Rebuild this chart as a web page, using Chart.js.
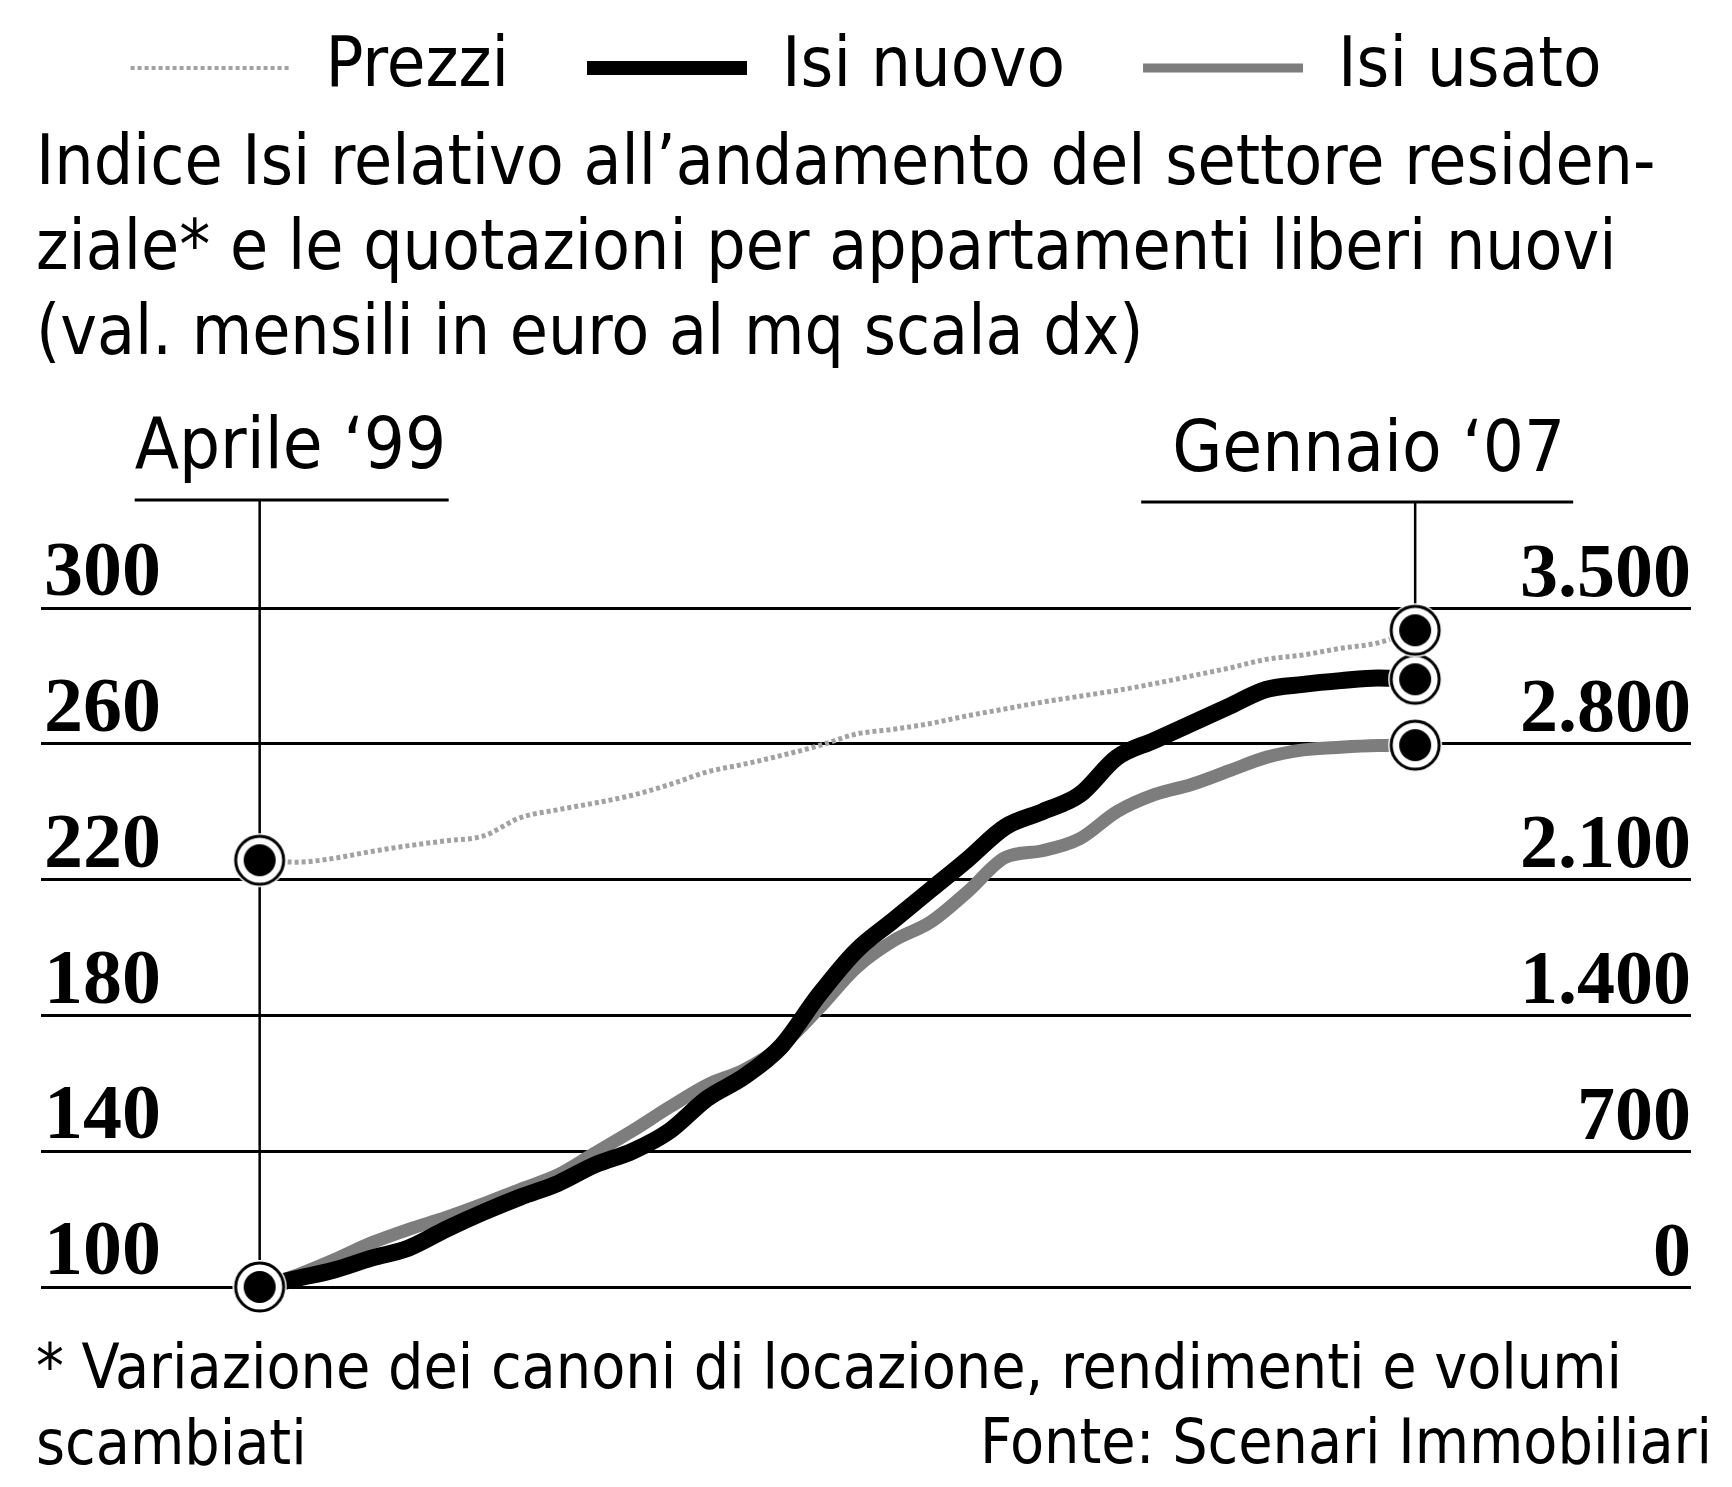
<!DOCTYPE html>
<html lang="it">
<head>
<meta charset="utf-8">
<title>Indice Isi e prezzi</title>
<script src="https://cdn.jsdelivr.net/npm/chart.js@4.4.1/dist/chart.umd.min.js"></script>
<style>
  html, body { margin: 0; padding: 0; background: #fff; }
  canvas { display: block; }
</style>
</head>
<body>
<canvas id="grafico" width="1732" height="1487"></canvas>
<script>
// valori, un punto a trimestre (aprile '99 - gennaio '07)
const trimestri = ['apr 1999', 'lug 1999', 'ott 1999', 'gen 2000', 'apr 2000', 'lug 2000', 'ott 2000', 'gen 2001',
  'apr 2001', 'lug 2001', 'ott 2001', 'gen 2002', 'apr 2002', 'lug 2002', 'ott 2002', 'gen 2003',
  'apr 2003', 'lug 2003', 'ott 2003', 'gen 2004', 'apr 2004', 'lug 2004', 'ott 2004', 'gen 2005',
  'apr 2005', 'lug 2005', 'ott 2005', 'gen 2006', 'apr 2006', 'lug 2006', 'ott 2006', 'gen 2007'];
// euro al mq (scala dx)
const prezzi = [2200, 2190, 2210, 2245, 2275, 2300, 2325, 2420, 2460, 2495, 2535, 2590, 2655, 2695, 2740, 2790,
  2850, 2875, 2905, 2945, 2980, 3015, 3045, 3075, 3110, 3150, 3190, 3235, 3258, 3292, 3320, 3385];
const isiNuovo = [100, 102.5, 105, 108.5, 111.5, 117, 122, 126.5, 130.5, 136, 140, 146, 155.5, 162, 171, 186,
  199, 208, 217, 226, 235.5, 240, 245, 256, 261, 266, 271, 276, 277.5, 278.6, 279.4, 279];
const isiUsato = [100, 103.5, 108, 113, 117, 120.5, 124.5, 128.8, 133, 139.5, 146, 153, 159.5, 164, 171, 182,
  194, 202, 207.5, 216.5, 226.5, 228.5, 232, 240, 245, 248, 252, 256, 258.2, 259, 259.5, 259.6];

const tickSinistra = ['100', '140', '180', '220', '260', '300'];
const tickDestra = ['0', '700', '1.400', '2.100', '2.800', '3.500'];

const titolo = ['Indice Isi relativo all’andamento del settore residen-',
  'ziale* e le quotazioni per appartamenti liberi nuovi',
  '(val. mensili in euro al mq scala dx)'];
const nota = ['* Variazione dei canoni di locazione, rendimenti e volumi', 'scambiati'];
const fonte = 'Fonte: Scenari Immobiliari';
const inizio = 'Aprile ‘99';
const fine = 'Gennaio ‘07';

const SANS = "'DejaVu Sans Condensed', 'DejaVu Sans', sans-serif";
const SERIF = "'Liberation Serif', serif";

const MESI = { gen: 0, apr: 3, lug: 6, ott: 9 };
// mesi trascorsi da aprile 1999
function mese(etichetta) {
  const [m, a] = etichetta.split(' ');
  return (Number(a) - 1999) * 12 + MESI[m] - 3;
}

function punti(serie) {
  return serie.map((v, i) => ({ x: mese(trimestri[i]), y: v }));
}

// pallino nero con anello
function pallino() {
  const c = document.createElement('canvas');
  c.width = c.height = 56;
  const g = c.getContext('2d');
  g.fillStyle = '#fff';
  g.beginPath(); g.arc(28, 28, 27, 0, 2 * Math.PI); g.fill();
  g.strokeStyle = '#000'; g.lineWidth = 3;
  g.beginPath(); g.arc(28, 28, 24, 0, 2 * Math.PI); g.stroke();
  g.fillStyle = '#000';
  g.beginPath(); g.arc(28, 28, 16, 0, 2 * Math.PI); g.fill();
  return c;
}
const marker = pallino();
const estremo = ctx => ctx.dataIndex === 0 || ctx.dataIndex === trimestri.length - 1;

// linee di riferimento e scritte fuori dall'area del grafico
const annotazioni = {
  id: 'annotazioni',
  beforeDatasetsDraw(chart) {
    const { ctx, chartArea, scales } = chart;
    const xa = scales.x.getPixelForValue(mese(trimestri[0]));
    const xb = scales.x.getPixelForValue(mese(trimestri[trimestri.length - 1]));
    const top = chartArea.top;
    const yTop = scales.y1.getPixelForValue(prezzi[prezzi.length - 1]);
    ctx.save();
    ctx.strokeStyle = '#000';
    ctx.lineWidth = 3;
    ctx.beginPath();
    ctx.moveTo(xa - 125, top - 108); ctx.lineTo(xa + 189, top - 108);
    ctx.moveTo(xb - 274, top - 106); ctx.lineTo(xb + 158, top - 106);
    ctx.stroke();
    ctx.lineWidth = 2.5;
    ctx.beginPath();
    ctx.moveTo(xa, top - 108); ctx.lineTo(xa, chartArea.bottom);
    ctx.moveTo(xb, top - 106); ctx.lineTo(xb, yTop - 26);
    ctx.stroke();

    ctx.fillStyle = '#000';
    ctx.textBaseline = 'middle';
    ctx.font = '72px ' + SANS;
    ctx.textAlign = 'left';
    ctx.fillText(inizio, xa - 125, top - 159);
    ctx.fillText(fine, xb - 243, top - 156);
    ctx.font = '62px ' + SANS;
    ctx.textAlign = 'right';
    ctx.fillText(fonte, chart.width - 20, chartArea.bottom + 160);
    ctx.restore();
  }
};

new Chart(document.getElementById('grafico'), {
  type: 'line',
  data: {
    datasets: [
      { label: 'Prezzi', data: punti(prezzi), yAxisID: 'y1', borderColor: '#a2a2a2', borderWidth: 5, borderDash: [4, 3], legendWidth: 4 },
      { label: 'Isi nuovo', data: punti(isiNuovo), yAxisID: 'y', borderColor: '#000', borderWidth: 17, legendWidth: 14 },
      { label: 'Isi usato', data: punti(isiUsato), yAxisID: 'y', borderColor: '#7d7d7d', borderWidth: 13, legendWidth: 9 }
    ]
  },
  options: {
    responsive: false,
    animation: false,
    devicePixelRatio: 1,
    layout: { padding: { top: -45, left: 36, right: 36, bottom: 0 } },
    datasets: { line: { clip: false } },
    elements: {
      line: { tension: 0.3, cubicInterpolationMode: 'monotone', fill: false, borderCapStyle: 'butt' },
      point: { pointStyle: marker, radius: ctx => (estremo(ctx) ? 24 : 0), hoverRadius: 0 }
    },
    scales: {
      x: { type: 'linear', min: -17.6, max: 115.2, display: false },
      y: {
        position: 'left', min: 100, max: 300,
        afterFit: s => { s.width = 0; },
        border: { display: false },
        grid: { color: '#000', lineWidth: 3, drawTicks: false },
        ticks: {
          stepSize: 40, mirror: true, padding: 3, labelOffset: -33, color: '#000',
          font: { family: SERIF, size: 78, weight: 'bold' },
          callback: (v, i) => tickSinistra[i]
        }
      },
      y1: {
        position: 'right', min: 0, max: 3500,
        afterFit: s => { s.width = 0; },
        border: { display: false },
        grid: { drawOnChartArea: false, drawTicks: false },
        ticks: {
          stepSize: 700, mirror: true, padding: 0, labelOffset: -32, color: '#000',
          font: { family: SERIF, size: 76, weight: 'bold' },
          callback: (v, i) => tickDestra[i]
        }
      }
    },
    plugins: {
      legend: {
        position: 'top', weight: 3000,
        labels: {
          usePointStyle: true, pointStyle: 'line', pointStyleWidth: 160, padding: 78,
          color: '#000', font: { family: SANS, size: 70 },
          generateLabels: chart => Chart.defaults.plugins.legend.labels.generateLabels(chart).map(l => {
            const ds = chart.data.datasets[l.datasetIndex];
            return { ...l, lineWidth: ds.legendWidth, lineDash: ds.borderDash || [], strokeStyle: ds.borderColor, lineCap: 'butt' };
          })
        }
      },
      title: {
        display: true, text: titolo, align: 'start', color: '#000',
        font: { family: SANS, size: 69, weight: 'normal', lineHeight: 85 / 69 },
        padding: { top: 10.5, bottom: 229.5 }
      },
      subtitle: {
        display: true, position: 'bottom', text: nota, align: 'start', color: '#000',
        font: { family: SANS, size: 62, weight: 'normal', lineHeight: 76 / 62 },
        padding: { top: 47, bottom: 1 }
      },
      tooltip: { enabled: false }
    }
  },
  plugins: [annotazioni]
});
</script>
</body>
</html>
